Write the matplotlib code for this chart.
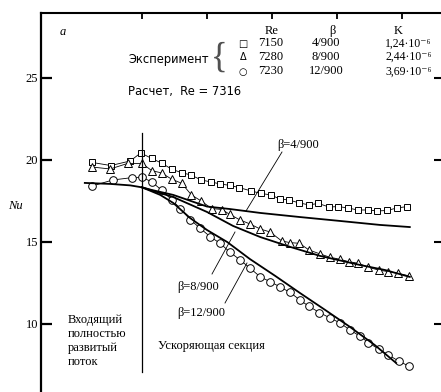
import numpy as np
import matplotlib
matplotlib.use('Agg')
import matplotlib.pyplot as plt

W, H = 441, 392

# experiment, beta = 4/900 (squares)
sq_x = [-0.77, -0.48, -0.18, -0.02, 0.15, 0.31, 0.46, 0.62, 0.75, 0.91, 1.06, 1.20, 1.35, 1.49,
        1.68, 1.83, 1.98, 2.12, 2.26, 2.42, 2.57, 2.71, 2.88, 3.02, 3.17, 3.32, 3.48, 3.62,
        3.77, 3.92, 4.08]
sq_y = [19.85, 19.66, 19.94, 20.43, 20.09, 19.79, 19.43, 19.21, 19.09, 18.78, 18.66, 18.54,
        18.45, 18.32, 18.11, 17.96, 17.87, 17.62, 17.56, 17.38, 17.26, 17.35, 17.13, 17.16,
        17.07, 16.95, 16.95, 16.89, 16.92, 17.07, 17.16]

# experiment, beta = 8/900 (triangles)
tr_x = [-0.77, -0.49, -0.22, 0.0, 0.15, 0.30, 0.46, 0.61, 0.76, 0.91, 1.07, 1.23, 1.35, 1.51,
        1.66, 1.82, 1.97, 2.15, 2.28, 2.42, 2.57, 2.74, 2.89, 3.04, 3.18, 3.33, 3.48, 3.64,
        3.79, 3.94, 4.11]
tr_y = [19.57, 19.45, 19.79, 19.79, 19.35, 19.21, 18.82, 18.58, 17.87, 17.50, 17.04, 16.98,
        16.68, 16.34, 16.10, 15.79, 15.61, 15.06, 14.96, 14.92, 14.51, 14.27, 14.07, 13.95,
        13.80, 13.70, 13.46, 13.29, 13.19, 13.09, 12.93]

# experiment, beta = 12/900 (circles)
ci_x = [-0.77, -0.45, -0.16, 0.0, 0.15, 0.30, 0.46, 0.59, 0.74, 0.89, 1.05, 1.20, 1.35, 1.51,
        1.66, 1.82, 1.97, 2.12, 2.28, 2.43, 2.57, 2.73, 2.89, 3.05, 3.20, 3.35, 3.48, 3.65,
        3.79, 3.95, 4.10]
ci_y = [18.41, 18.78, 18.92, 18.95, 18.66, 18.17, 17.56, 17.04, 16.37, 15.85, 15.32, 14.92,
        14.39, 13.90, 13.41, 12.87, 12.58, 12.27, 11.92, 11.46, 11.07, 10.70, 10.37, 10.06,
        9.63, 9.27, 8.87, 8.45, 8.11, 7.74, 7.44]

# calculation, Re = 7316
inlet_x = [-0.88, -0.49, -0.18, 0.0]
inlet_y = [18.60, 18.54, 18.45, 18.33]
c4_x = [0.0, 0.15, 0.48, 1.0, 1.35, 1.82, 2.43, 3.05, 3.66, 4.12]
c4_y = [18.33, 18.17, 17.87, 17.16, 17.01, 16.77, 16.52, 16.28, 16.04, 15.91]
c8_x = [0.0, 0.15, 0.48, 1.0, 1.40, 1.82, 2.28, 2.74, 3.35, 3.74, 4.12]
c8_y = [18.33, 18.14, 17.74, 16.83, 15.98, 15.30, 14.70, 14.15, 13.60, 13.29, 12.87]
c12_x = [0.0, 0.28, 0.48, 0.74, 1.0, 1.31, 1.66, 2.05, 2.43, 2.82, 3.2, 3.58, 3.91]
c12_y = [18.33, 17.87, 17.38, 16.46, 15.73, 15.0, 13.96, 12.93, 11.89, 10.85, 9.82, 8.72, 7.62]

y_ticks = [10, 15, 20, 25]
x_ticks = [0, 1, 2, 3, 4]

fig = plt.figure(figsize=(W / 100, H / 100), dpi=100)
fig.patch.set_facecolor('white')
ax = fig.add_axes([41 / W, 0, 1 - 41 / W, 1 - 12.5 / H])
ax.set_xlim(-1.554, 4.6)
ax.set_ylim(5.854, 28.99)

serif = 'Liberation Serif'
serif_list = ['Liberation Serif', 'DejaVu Serif']

mk = dict(color='black', lw=0.6, mfc='white', mec='black', mew=0.7)
ax.plot(sq_x, sq_y, marker='s', ms=4.6, **mk)
ax.plot(tr_x, tr_y, marker='^', ms=5.3, **mk)
ax.plot(ci_x, ci_y, marker='o', ms=5.5, **mk)

for xs, ys in [(inlet_x, inlet_y), (c4_x, c4_y), (c8_x, c8_y), (c12_x, c12_y)]:
    ax.plot(xs, ys, color='black', lw=1.3, zorder=3)

ax.plot([0, 0], [7.07, 21.65], color='black', lw=0.9)

for s in ['bottom', 'right']:
    ax.spines[s].set_visible(False)
ax.spines['left'].set_linewidth(1.6)
ax.spines['top'].set_linewidth(1.5)

ax.set_yticks(y_ticks)
ax.set_yticklabels([str(v) for v in y_ticks], fontfamily=serif, fontsize=9)
ax.tick_params(axis='y', direction='in', length=8, width=1.6, pad=2)
ax.set_xticks(x_ticks)
ax.tick_params(axis='x', direction='in', length=4, width=1.3, top=True, bottom=False,
               labelbottom=False)
sec = ax.secondary_yaxis('right')
sec.set_yticks(y_ticks)
sec.tick_params(direction='in', length=5, width=1.5, labelright=False)
sec.spines['right'].set_visible(False)


def fp(x, y):
    return x / W, 1 - y / H


fig.text(*fp(15, 206), 'Nu', fontfamily=serif, style='italic', fontsize=9, ha='center', va='center')
fig.text(*fp(63, 32), 'a', fontfamily=serif, style='italic', fontsize=9, ha='center', va='center')

# header table
fig.text(*fp(272, 31), 'Re', fontfamily=serif, fontsize=9, ha='center', va='center')
fig.text(*fp(332, 31), 'β', fontfamily=serif, fontsize=9, ha='center', va='center')
fig.text(*fp(398, 31), 'K', fontfamily=serif, fontsize=9, ha='center', va='center')
rows_y = [43.5, 57, 71.5]
syms = ['□', 'Δ', '○']
re_vals = ['7150', '7280', '7230']
beta_vals = ['4/900', '8/900', '12/900']
k_vals = ['1,24·10⁻⁶', '2,44·10⁻⁶', '3,69·10⁻⁶']
for yy, s, r, b, k in zip(rows_y, syms, re_vals, beta_vals, k_vals):
    fig.text(*fp(243, yy), s, fontfamily='DejaVu Sans', fontsize=7, ha='center', va='center')
    fig.text(*fp(271, yy), r, fontfamily=serif, fontsize=9, ha='center', va='center')
    fig.text(*fp(326, yy), b, fontfamily=serif, fontsize=9, ha='center', va='center')
    fig.text(*fp(385, yy), k, fontfamily=serif_list, fontsize=8.5, ha='left', va='center')

fig.text(*fp(128, 60), 'Эксперимент', fontfamily='DejaVu Sans', fontsize=8.3, ha='left', va='center')
fig.text(*fp(219, 58), '{', fontfamily=serif, fontsize=25, color='#505050', ha='center', va='center')
fig.text(*fp(128, 92), 'Расчет,  Re = 7316', fontfamily='DejaVu Sans', fontsize=8.3,
         ha='left', va='center')

# curve labels with leaders
lab = [('β=4/900', (277, 145), (282, 152), (246, 211)),
       ('β=8/900', (177, 287), (212, 274), (235, 232)),
       ('β=12/900', (177, 313), (225, 303), (247, 263))]
for t, (tx, ty), p0, p1 in lab:
    fig.text(*fp(tx, ty), t, fontfamily=serif, fontsize=9, ha='left', va='center')
    fig.add_artist(plt.Line2D([p0[0] / W, p1[0] / W], [1 - p0[1] / H, 1 - p1[1] / H],
                              color='black', lw=0.6, transform=fig.transFigure))

fig.text(*fp(68, 341), 'Входящий\nполностью\nразвитый\nпоток', fontfamily=serif, fontsize=9,
         ha='left', va='center', linespacing=1.2)
fig.text(*fp(158, 346), 'Ускоряющая секция', fontfamily=serif, fontsize=9, ha='left', va='center')

fig.savefig('out.png', dpi=100)
